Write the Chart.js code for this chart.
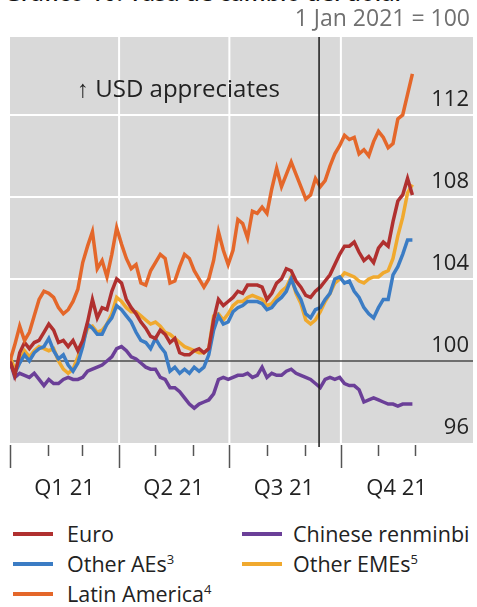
<!DOCTYPE html>
<html>
<head>
<meta charset="utf-8">
<script src="https://cdn.jsdelivr.net/npm/chart.js@4/dist/chart.umd.min.js"></script>
<style>
  body { margin: 0; background: #fff; font-family: "Open Sans", sans-serif; }
  #wrap { position: relative; width: 477px; height: 607px; overflow: hidden; }
  #chart { position: absolute; left: 0; top: 0; }
  .txt { position: absolute; white-space: nowrap; }
  .title { left: 4px; top: -19px; font-size: 23px; line-height: 1; font-weight: 600; color: #111; }
  .base { right: 7px; top: 5px; font-size: 23px; line-height: 25px; color: #707070; }
  .note { left: 77px; top: 74px; font-size: 24px; line-height: 28px; color: #222; }
  .leg { font-size: 21.5px; line-height: 30px; color: #222; }
  .leg i { position: absolute; top: 13px; width: 40px; height: 4px; }
  .leg span { position: absolute; }
  .leg sup { font-size: 13px; line-height: 0; }
</style>
</head>
<body>
<div id="wrap">
  <div class="txt title">Gráfico 10: Tasa de cambio del dólar</div>
  <canvas id="chart" width="477" height="503"></canvas>
  <div class="txt base">1 Jan 2021 = 100</div>
  <div class="txt note">↑ USD appreciates</div>
  <div id="legend"></div>
</div>
<script>
// days since 1 Jan 2021
var days = [0, 4, 8, 12, 16, 20, 24, 28, 32, 36, 40, 44, 48, 52, 56, 60, 64, 68, 72, 76,
  80, 84, 88, 92, 96, 100, 104, 108, 112, 116, 120, 124, 128, 132, 136, 140, 144, 148, 152, 156,
  160, 164, 168, 172, 176, 180, 184, 188, 192, 196, 200, 204, 208, 212, 216, 220, 224, 228, 232, 236,
  240, 244, 248, 252, 256, 260, 264, 268, 272, 276, 280, 284, 288, 292, 296, 300, 304, 308, 312, 316,
  320, 324, 328, 332];

var euro = [100.0, 99.3, 100.4, 100.9, 100.6, 100.9, 101.0, 101.4, 101.8, 101.5, 100.9, 101.0, 100.7, 101.0, 100.5, 101.0, 101.9, 103.0, 102.1, 102.6,
  102.5, 103.4, 104.0, 103.8, 103.0, 102.6, 102.3, 101.9, 101.6, 101.2, 101.1, 101.5, 101.3, 100.9, 101.1, 100.4, 100.3, 100.3, 100.5, 100.6,
  100.4, 100.6, 102.0, 103.0, 102.7, 102.9, 103.1, 103.4, 103.3, 103.7, 103.7, 103.7, 103.6, 103.0, 103.3, 103.8, 104.0, 104.5, 104.4, 103.9,
  103.6, 103.2, 103.1, 103.4, 103.6, 103.9, 104.2, 104.7, 105.2, 105.6, 105.6, 105.8, 105.3, 104.9, 105.1, 104.8, 105.5, 105.8, 105.6, 106.8,
  107.8, 108.1, 108.9, 108.1];

var otherAEs = [99.9, 99.4, 99.9, 100.3, 100.0, 100.4, 100.6, 100.7, 101.1, 100.5, 100.1, 100.3, 99.8, 99.5, 99.9, 100.7, 101.8, 101.6, 101.3, 101.3,
  101.8, 102.1, 102.7, 102.5, 102.2, 101.9, 101.4, 101.0, 100.9, 100.6, 101.1, 100.7, 100.4, 99.5, 99.7, 99.4, 99.6, 99.4, 99.7, 99.5,
  99.7, 100.3, 101.5, 102.2, 101.8, 101.9, 102.4, 102.6, 102.7, 102.9, 102.9, 102.9, 102.8, 102.5, 102.6, 102.9, 103.1, 103.4, 104.0, 103.4,
  103.0, 102.3, 102.1, 102.5, 102.6, 103.0, 103.3, 104.0, 104.1, 103.8, 103.9, 103.4, 103.1, 102.6, 102.3, 102.1, 102.6, 103.0, 103.0, 104.2,
  104.6, 105.2, 105.9, 105.9];

var latinAmerica = [100.0, 100.8, 101.7, 101.0, 101.4, 102.2, 103.0, 103.4, 103.3, 103.1, 102.6, 102.3, 102.5, 102.9, 103.5, 104.8, 105.6, 106.3, 104.5, 104.9,
  104.1, 105.2, 106.5, 105.7, 105.0, 104.5, 104.7, 103.8, 103.7, 104.4, 104.8, 105.2, 105.0, 103.8, 103.9, 104.6, 105.2, 105.0, 104.4, 104.0,
  103.6, 104.0, 104.9, 106.3, 105.4, 104.7, 105.4, 106.9, 106.7, 106.0, 107.3, 107.2, 107.5, 107.2, 108.4, 109.4, 108.5, 109.1, 109.7, 109.1,
  108.5, 107.9, 108.1, 108.9, 108.5, 108.8, 109.5, 110.1, 110.5, 111.0, 110.8, 110.9, 110.1, 110.3, 110.0, 110.7, 111.2, 110.9, 110.4, 110.6,
  111.8, 112.0, 113.0, 114.0];

var renminbi = [100.0, 99.2, 99.4, 99.3, 99.2, 99.4, 99.1, 98.8, 99.1, 98.9, 98.9, 99.1, 99.2, 99.1, 99.1, 99.2, 99.5, 99.6, 99.7, 99.8,
  100.0, 100.2, 100.6, 100.7, 100.5, 100.2, 100.1, 99.9, 99.7, 99.6, 99.6, 99.2, 99.1, 98.7, 98.7, 98.5, 98.2, 97.9, 97.7, 97.9,
  98.0, 98.1, 98.4, 99.1, 99.2, 99.1, 99.2, 99.3, 99.3, 99.4, 99.2, 99.3, 99.7, 99.2, 99.4, 99.3, 99.3, 99.5, 99.6, 99.4,
  99.3, 99.2, 99.1, 98.9, 98.7, 99.1, 99.2, 99.1, 99.2, 98.9, 98.8, 98.8, 98.6, 98.0, 98.1, 98.2, 98.1, 98.0, 97.9, 97.9,
  97.8, 97.9, 97.9, 97.9];

var otherEMEs = [100.2, 99.6, 100.0, 100.5, 100.2, 100.5, 100.7, 100.6, 100.5, 100.6, 100.0, 99.6, 99.4, 99.6, 100.2, 100.9, 101.6, 101.7, 101.4, 101.5,
  101.8, 102.3, 103.1, 102.9, 102.6, 102.4, 102.4, 102.2, 102.0, 101.8, 101.9, 101.7, 101.4, 101.3, 101.1, 100.9, 100.7, 100.6, 100.5, 100.4,
  100.4, 100.6, 102.2, 102.3, 102.0, 102.3, 102.7, 102.9, 102.9, 103.1, 103.2, 103.1, 103.0, 102.7, 102.8, 103.1, 103.4, 103.6, 104.1, 103.3,
  102.8, 102.0, 101.8, 102.0, 102.4, 102.9, 103.3, 103.8, 104.0, 104.3, 104.2, 104.1, 103.9, 103.8, 104.0, 104.1, 104.1, 104.3, 104.4, 105.0,
  106.1, 107.0, 108.2, 108.6];

var yTicks = [96, 100, 104, 108, 112];
var monthStarts = [31, 59, 120, 151, 212, 243, 304, 334];
var quarterStarts = [0, 90, 181, 273];
var quarterMids = [45, 135, 226, 319];
var quarterLabels = ["Q1 21", "Q2 21", "Q3 21", "Q4 21"];
var markerDay = 255;

var series = [
  { label: "Latin America", sup: "4", data: latinAmerica, color: "#e4672a" },
  { label: "Euro", sup: "", data: euro, color: "#b0302f" },
  { label: "Chinese renminbi", sup: "", data: renminbi, color: "#6b3f98" },
  { label: "Other AEs", sup: "3", data: otherAEs, color: "#3b7cc4" },
  { label: "Other EMEs", sup: "5", data: otherEMEs, color: "#f0a92e" }
];

function toPoints(values) {
  var out = [];
  for (var i = 0; i < values.length; ++i)
    out.push({ x: days[i], y: values[i] });
  return out;
}

function line(ctx, x1, y1, x2, y2) {
  ctx.beginPath(); ctx.moveTo(x1, y1); ctx.lineTo(x2, y2); ctx.stroke();
}

var extras = {
  id: "extras",
  beforeDatasetsDraw: function (chart) {
    var a = chart.chartArea, ctx = chart.ctx, x = chart.scales.x, y = chart.scales.y;
    ctx.save();
    ctx.fillStyle = "#d9d9d9";
    ctx.fillRect(a.left, a.top, a.width, a.height);
    ctx.strokeStyle = "#ffffff";
    ctx.lineWidth = 2;
    quarterStarts.slice(1).forEach(function (d) {
      var px = x.getPixelForValue(d);
      line(ctx, px, a.top, px, a.bottom);
    });
    yTicks.forEach(function (v) {
      if (v === 96 || v === 100) return;
      var py = y.getPixelForValue(v);
      line(ctx, a.left, py, a.right, py);
    });
    ctx.strokeStyle = "#4a4a4a";
    ctx.lineWidth = 1.5;
    var y100 = y.getPixelForValue(100);
    line(ctx, a.left, y100, a.right, y100);
    // tick marks under the plot
    ctx.strokeStyle = "#555";
    ctx.lineWidth = 1.5;
    quarterStarts.forEach(function (d) {
      var px = Math.round(x.getPixelForValue(d)) + 0.5;
      line(ctx, px, a.bottom + 2, px, a.bottom + 25);
    });
    monthStarts.forEach(function (d) {
      var px = Math.round(x.getPixelForValue(d)) + 0.5;
      line(ctx, px, a.bottom + 2, px, a.bottom + 13);
    });
    ctx.restore();
  },
  afterDatasetsDraw: function (chart) {
    var a = chart.chartArea, ctx = chart.ctx, y = chart.scales.y;
    var px = chart.scales.x.getPixelForValue(markerDay);
    ctx.save();
    ctx.strokeStyle = "#1a1a1a";
    ctx.lineWidth = 1.5;
    line(ctx, px, a.top, px, a.bottom + 4);
    // y labels sit inside the plot, just above their grid line
    ctx.fillStyle = "#222";
    ctx.font = "22px 'Open Sans'";
    ctx.textAlign = "right";
    ctx.textBaseline = "middle";
    y.ticks.forEach(function (t) {
      ctx.fillText(String(t.value), a.right - 4, y.getPixelForValue(t.value) - 15);
    });
    ctx.restore();
  }
};

new Chart(document.getElementById("chart"), {
  type: "line",
  data: {
    datasets: series.map(function (s) {
      return {
        label: s.label,
        data: toPoints(s.data),
        borderColor: s.color,
        backgroundColor: s.color,
        borderWidth: 3.5,
        pointRadius: 0,
        tension: 0
      };
    })
  },
  options: {
    responsive: false,
    animation: false,
    layout: { padding: { top: 37, left: 10, right: 0, bottom: 0 } },
    plugins: { legend: { display: false }, tooltip: { enabled: false } },
    scales: {
      x: {
        type: "linear",
        min: 0,
        max: 382,
        afterBuildTicks: function (axis) {
          axis.ticks = quarterMids.map(function (v) { return { value: v }; });
        },
        afterFit: function (axis) { axis.height = 60; },
        ticks: {
          autoSkip: false,
          maxRotation: 0,
          padding: 33,
          color: "#222",
          font: { family: "Open Sans", size: 22 },
          callback: function (v, i) { return quarterLabels[i]; }
        },
        grid: { display: false, drawTicks: false },
        border: { display: false }
      },
      y: {
        position: "right",
        min: 96,
        max: 115.8,
        afterBuildTicks: function (axis) {
          axis.ticks = yTicks.map(function (v) { return { value: v }; });
        },
        afterFit: function (axis) { axis.width = 4; },
        ticks: { display: false },
        grid: { display: false, drawTicks: false },
        border: { display: false }
      }
    }
  },
  plugins: [extras]
});

// legend, two columns like the original
var legendOrder = [
  { s: series[1], left: 13, top: 519 },
  { s: series[3], left: 13, top: 549 },
  { s: series[0], left: 13, top: 579 },
  { s: series[2], left: 242, top: 519 },
  { s: series[4], left: 242, top: 549 }
];
var legend = document.getElementById("legend");
legendOrder.forEach(function (it) {
  var row = document.createElement("div");
  row.className = "txt leg";
  row.style.left = it.left + "px";
  row.style.top = it.top + "px";
  row.innerHTML = '<i style="left:0;background:' + it.s.color + '"></i>' +
    '<span style="left:' + (it.left === 13 ? 54 : 51) + 'px">' + it.s.label +
    (it.s.sup ? "<sup>" + it.s.sup + "</sup>" : "") + "</span>";
  legend.appendChild(row);
});
</script>
</body>
</html>
